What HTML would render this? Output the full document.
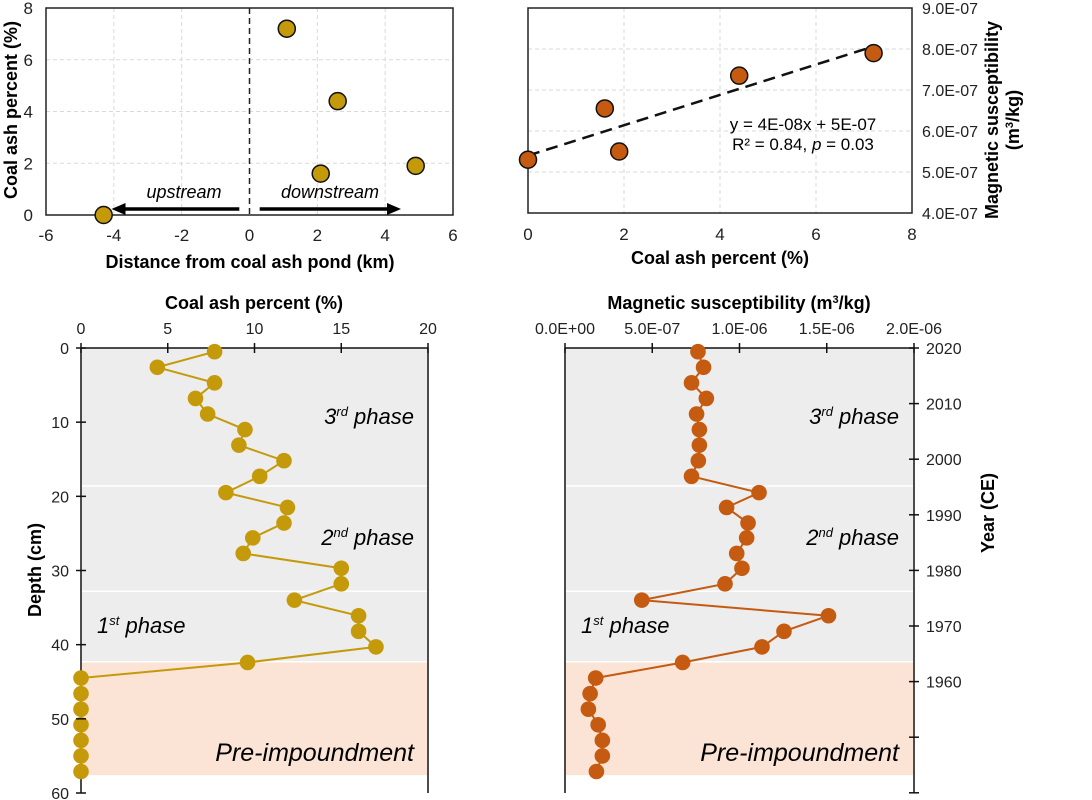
<!DOCTYPE html>
<html><head><meta charset="utf-8"><style>
body{margin:0;background:#fff;}
svg{display:block;font-family:"Liberation Sans",Arial,sans-serif;}
</style></head><body>
<svg id="fig" width="1092" height="800" viewBox="0 0 1092 800" xmlns="http://www.w3.org/2000/svg"></svg>
<script>
// Panel A data
const distKm = [-4.3, 1.1, 2.6, 2.1, 4.9];
const ashPctA = [0, 7.2, 4.4, 1.6, 1.9];
const ticksA_x = [-6, -4, -2, 0, 2, 4, 6];
const ticksA_y = [0, 2, 4, 6, 8];
// Panel B data
const ashPctB = [0, 1.6, 1.9, 4.4, 7.2];
const magB = [5.3e-7, 6.55e-7, 5.5e-7, 7.35e-7, 7.9e-7];
const ticksB_x = [0, 2, 4, 6, 8];
const ticksB_y = [4e-7, 5e-7, 6e-7, 7e-7, 8e-7, 9e-7];
const ticksB_ylabels = ["4.0E-07","5.0E-07","6.0E-07","7.0E-07","8.0E-07","9.0E-07"];
const trendSlope = 3.7e-8, trendIntercept = 5.4e-7;
// Core profiles
const depths = [0.5,2.6,4.7,6.8,8.9,11,13.1,15.2,17.3,19.5,21.5,23.6,25.6,27.7,29.7,31.8,34,36.1,38.2,40.3,42.4,44.5,46.6,48.7,50.8,52.9,55,57.1];
const ashPct = [7.7,4.4,7.7,6.6,7.3,9.45,9.1,11.7,10.3,8.35,11.9,11.7,9.9,9.35,15,15,12.3,16,16,17,9.6,0,0,0,0,0,0,0];
const magSus = [0.762,0.794,0.725,0.81,0.754,0.77,0.77,0.764,0.725,1.112,0.926,1.049,1.041,0.984,1.014,0.917,0.44,1.51,1.255,1.129,0.674,0.176,0.144,0.134,0.19,0.214,0.214,0.18].map(v=>v*1e-6);
const ticksDepth = [0,10,20,30,40,50,60];
const ticksAsh = [0,5,10,15,20];
const ticksMag = [0,5e-7,1e-6,1.5e-6,2e-6];
const ticksMagLabels = ["0.0E+00","5.0E-07","1.0E-06","1.5E-06","2.0E-06"];
const years = [2020,2010,2000,1990,1980,1970,1960];
const phases = [{from:0,to:18.5,c:"#ededed"},{from:18.7,to:32.7,c:"#ededed"},{from:32.9,to:42.2,c:"#ededed"},{from:42.4,to:57.6,c:"#fbe4d5"}];

const svg = document.getElementById('fig');
const NS = "http://www.w3.org/2000/svg";
function el(tag, attrs, parent){const e=document.createElementNS(NS,tag);for(const k in attrs)e.setAttribute(k,attrs[k]);(parent||svg).appendChild(e);return e;}
function txt(s, attrs, parent){const t=el('text',attrs,parent);t.textContent=s;return t;}
const GOLD="#c49a0a", ORANGE="#c55a11";

// ---------- Panel A ----------
const gA = el('g',{});


const ax = v => 46 + (v+6)/12*407;
const ay = v => 215 - v/8*207;
ticksA_x.forEach(v=>{ if(v>-6&&v<6&&v!==0){const l=el('line',{x1:ax(v),x2:ax(v),y1:8,y2:215,stroke:"#d9d9d9","stroke-dasharray":"4 3"},gA);}
  const t=txt(String(v),{x:ax(v),y:241,"font-size":17,"text-anchor":"middle",fill:"#222"},gA);});
ticksA_y.forEach(v=>{ if(v>0&&v<8){const l=el('line',{x1:46,x2:453,y1:ay(v),y2:ay(v),stroke:"#d9d9d9","stroke-dasharray":"4 3"},gA);}
  const t=txt(String(v),{x:33,y:ay(v)+6,"font-size":17,"text-anchor":"end",fill:"#222"},gA);});
let r=el('rect',{x:46,y:8,width:407,height:207,fill:"none",stroke:"#222","stroke-width":1.5},gA);

let l0=el('line',{x1:ax(0),x2:ax(0),y1:8,y2:215,stroke:"#222","stroke-width":1.5,"stroke-dasharray":"6 4"},gA);

el('defs',{}).innerHTML='<marker id="ah" markerWidth="14" markerHeight="12" refX="10" refY="6" orient="auto" markerUnits="userSpaceOnUse"><path d="M0,0 L14,6 L0,12 z" fill="#000"/></marker>';
let a1=el('line',{x1:ax(-0.3),x2:ax(-3.95),y1:209,y2:209,stroke:"#000","stroke-width":3.5,"marker-end":"url(#ah)"},gA);

let a2=el('line',{x1:ax(0.3),x2:ax(4.35),y1:209,y2:209,stroke:"#000","stroke-width":3.5,"marker-end":"url(#ah)"},gA);

let tu=txt("upstream",{x:184,y:198,"font-size":18,"font-style":"italic","text-anchor":"middle"},gA);

let td=txt("downstream",{x:330,y:198,"font-size":18,"font-style":"italic","text-anchor":"middle"},gA);

distKm.forEach((d,i)=>{const c=el('circle',{cx:ax(d),cy:ay(ashPctA[i]),r:8.5,fill:GOLD,stroke:"#111","stroke-width":1.5},gA);
  });
let xtA=txt("Distance from coal ash pond (km)",{x:250,y:268,"font-size":18,"font-weight":"bold","text-anchor":"middle"},gA);

let ytA=txt("Coal ash percent (%)",{x:0,y:0,"font-size":18,"font-weight":"bold","text-anchor":"middle",transform:"translate(17,110) rotate(-90)"},gA);


// ---------- Panel B ----------
const gB = el('g',{});


const bx = v => 528 + v/8*384;
const by = v => 213 - (v-4e-7)/5e-7*205;
ticksB_x.forEach(v=>{ if(v>0&&v<8){const l=el('line',{x1:bx(v),x2:bx(v),y1:8,y2:213,stroke:"#d9d9d9","stroke-dasharray":"4 3"},gB);}
  const t=txt(String(v),{x:bx(v),y:240,"font-size":17,"text-anchor":"middle",fill:"#222"},gB);});
ticksB_y.forEach((v,i)=>{ if(i>0&&i<ticksB_y.length-1){const l=el('line',{x1:528,x2:912,y1:by(v),y2:by(v),stroke:"#d9d9d9","stroke-dasharray":"4 3"},gB);}
  const t=txt(ticksB_ylabels[i],{x:922,y:by(v)+6,"font-size":16,fill:"#222"},gB);});
r=el('rect',{x:528,y:8,width:384,height:205,fill:"none",stroke:"#222","stroke-width":1.5},gB);

let tl=el('line',{x1:bx(0),y1:by(trendIntercept),x2:bx(7.2),y2:by(trendIntercept+trendSlope*7.2),stroke:"#111","stroke-width":2.5,"stroke-dasharray":"12 7"},gB);

ashPctB.forEach((v,i)=>{const c=el('circle',{cx:bx(v),cy:by(magB[i]),r:8.5,fill:ORANGE,stroke:"#111","stroke-width":1.5},gB);
  });
let eq=txt("y = 4E-08x + 5E-07",{x:803,y:130,"font-size":17,"text-anchor":"middle"},gB);

let r2=el('text',{x:803,y:150,"font-size":17,"text-anchor":"middle"},gB);
r2.innerHTML='R² = 0.84, <tspan font-style="italic">p</tspan> = 0.03';

let xtB=txt("Coal ash percent (%)",{x:720,y:264,"font-size":18,"font-weight":"bold","text-anchor":"middle"},gB);

let ytB=el('text',{"font-size":18,"font-weight":"bold","text-anchor":"middle",transform:"translate(998,120) rotate(-90)"},gB);
ytB.innerHTML='<tspan x="0" y="0">Magnetic susceptibility</tspan><tspan x="0" y="21">(m<tspan dy="-6" font-size="11">3</tspan><tspan dy="6">/kg)</tspan></tspan>';


// ---------- Depth profiles ----------
const dy = d => 348 + d/60*445;
function profile(name, x0, x1, vmax, vals, color, ticks, tickLabels, title, titleX, phaseRight, phaseLeft){
  const g=el('g',{});
  
  
  const px = v => x0 + v/vmax*(x1-x0);
  phases.forEach(p=>{const b=el('rect',{x:x0+1,y:dy(p.from),width:x1-x0-2,height:dy(p.to)-dy(p.from),fill:p.c},g);
    });
  let ta=el('line',{x1:x0,x2:x1,y1:348,y2:348,stroke:"#111","stroke-width":1.5},g);
  
  let la=el('line',{x1:x0,x2:x0,y1:348,y2:793,stroke:"#111","stroke-width":1.5},g);
  
  let ra=el('line',{x1:x1,x2:x1,y1:348,y2:793,stroke:"#111","stroke-width":1.5},g);
  
  ticks.forEach((v,i)=>{const tk=el('line',{x1:px(v),x2:px(v),y1:343,y2:353,stroke:"#111","stroke-width":1.5},g);
    
    const t=txt(tickLabels[i],{x:px(v),y:334,"font-size":16,"text-anchor":"middle",fill:"#222"},g);
    });
  const pts=vals.map((v,i)=>px(v)+","+dy(depths[i])).join(" ");
  const pl=el('polyline',{points:pts,fill:"none",stroke:color,"stroke-width":2},g);
  
  vals.forEach((v,i)=>{const c=el('circle',{cx:px(v),cy:dy(depths[i]),r:7.8,fill:color},g);
    });
  const tt=el('text',{x:titleX,y:309,"font-size":18,"font-weight":"bold","text-anchor":"middle"},g);
  tt.innerHTML=title;
  
  const ph=[["3","rd",424,"end",phaseRight,"3rd-phase-label"],["2","nd",545,"end",phaseRight,"2nd-phase-label"],["1","st",633,"start",phaseLeft,"1st-phase-label"]];
  ph.forEach(p=>{const t=el('text',{x:p[4],y:p[2],"font-size":22,"font-style":"italic","text-anchor":p[3]},g);
    t.innerHTML=p[0]+'<tspan dy="-8" font-size="13">'+p[1]+'</tspan><tspan dy="8"> phase</tspan>';
    });
  const pi=txt("Pre-impoundment",{x:phaseRight,y:761,"font-size":25,"font-style":"italic","text-anchor":"end"},g);
  
  return g;
}
const gL=profile('coal-ash-depth-profile',81,428,20,ashPct,GOLD,ticksAsh,ticksAsh.map(String),'Coal ash percent (%)',254,414,97);
ticksDepth.forEach(v=>{const tk=el('line',{x1:76,x2:86,y1:dy(v),y2:dy(v),stroke:"#111","stroke-width":1.5},gL);
  
  const t=txt(String(v),{x:69,y:dy(v)+6,"font-size":16,"text-anchor":"end",fill:"#222"},gL);
  });
let dt=txt("Depth (cm)",{"font-size":18,"font-weight":"bold","text-anchor":"middle",transform:"translate(41,570) rotate(-90)"},gL);


const gR=profile('magnetic-depth-profile',565,914,2e-6,magSus,ORANGE,ticksMag,ticksMagLabels,'Magnetic susceptibility (m<tspan dy="-6" font-size="11">3</tspan><tspan dy="6">/kg)</tspan>',739,899,581);
const yy = yr => 348 + (2020-yr)/10*55.6;
years.forEach(yr=>{const tk=el('line',{x1:909,x2:919,y1:yy(yr),y2:yy(yr),stroke:"#111","stroke-width":1.5},gR);
  
  const t=txt(String(yr),{x:926,y:yy(yr)+6,"font-size":16,fill:"#222"},gR);
  });
[1950,1940].forEach(yr=>{const tk=el('line',{x1:909,x2:919,y1:yy(yr),y2:yy(yr),stroke:"#111","stroke-width":1.5},gR);
  });
let yt=txt("Year (CE)",{"font-size":18,"font-weight":"bold","text-anchor":"middle",transform:"translate(994,513) rotate(-90)"},gR);

</script>
</body></html>
